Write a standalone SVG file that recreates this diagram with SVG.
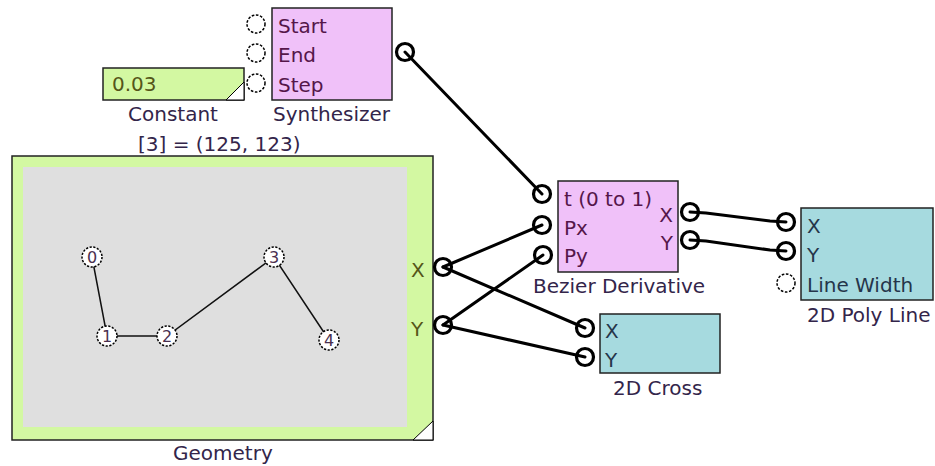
<svg xmlns="http://www.w3.org/2000/svg" width="935" height="466" viewBox="0 0 935 466">
<style>
text{font-family:"DejaVu Sans","Verdana",sans-serif;font-size:20px}
.lbl{fill:#33254a}
.pk{fill:#55164a}
.gr{fill:#555518}
.tl{fill:#25354a}
.box{stroke:#222;stroke-width:1.5}
.pink{fill:#f0c1f9}
.green{fill:#d3f8a2}
.teal{fill:#a6dadf}
.pin{fill:#fff;stroke:#000;stroke-width:1.5;stroke-dasharray:2.6 1.6}
.pc{fill:#fff;stroke:#000;stroke-width:3.2}
.w{fill:none;stroke:#000;stroke-width:3;stroke-linecap:round}
.gp{fill:#fff;stroke:#000;stroke-width:1.5;stroke-dasharray:2.2 1.5}
.gn{font-size:16px;fill:#4a3050;text-anchor:middle}
.gl{fill:none;stroke:#111;stroke-width:1.5}
</style>
<rect width="935" height="466" fill="#fff"/>

<g id="constant">
<rect class="box green" x="103" y="68" width="141" height="32"/>
<polygon points="226,100 244,100 244,82" fill="#fff" stroke="#000" stroke-width="1"/>
<text class="gr" x="112" y="91">0.03</text>
<text class="lbl" x="128" y="121">Constant</text>
</g>

<g id="synthesizer">
<rect class="box pink" x="272" y="8" width="120" height="92"/>
<circle class="pin" cx="256" cy="24" r="9"/>
<circle class="pin" cx="256" cy="53" r="9"/>
<circle class="pin" cx="256" cy="83" r="9"/>
<text class="pk" x="278" y="33">Start</text>
<text class="pk" x="278" y="62">End</text>
<text class="pk" x="278" y="92">Step</text>
<circle class="pc" cx="405" cy="52" r="8.5"/>
<text class="lbl" x="273" y="121">Synthesizer</text>
</g>

<g id="geometry">
<text class="lbl" x="138" y="151">[3] = (125, 123)</text>
<rect class="box green" x="12" y="156" width="421" height="284"/>
<rect x="23" y="167" width="384" height="260" fill="#dfdfdf"/>
<polygon points="413,440 433,440 433,421" fill="#fff" stroke="#000" stroke-width="1"/>
<polyline class="gl" points="92,257 107,336 167,336 274,257 329,340"/>
<circle class="gp" cx="92" cy="257" r="10"/><text class="gn" x="92" y="263">0</text>
<circle class="gp" cx="107" cy="336" r="10"/><text class="gn" x="107" y="342">1</text>
<circle class="gp" cx="167" cy="336" r="10"/><text class="gn" x="167" y="342">2</text>
<circle class="gp" cx="274" cy="257" r="10"/><text class="gn" x="274" y="263">3</text>
<circle class="gp" cx="329" cy="340" r="10"/><text class="gn" x="329" y="346">4</text>
<text class="gr" x="411" y="277">X</text>
<text class="gr" x="411" y="336">Y</text>
<circle class="pc" cx="443" cy="267" r="8.5"/>
<circle class="pc" cx="443" cy="325" r="8.5"/>
<text class="lbl" x="173" y="460">Geometry</text>
</g>

<g id="bezier">
<rect class="box pink" x="558" y="181" width="120" height="91"/>
<circle class="pc" cx="542" cy="194" r="8.5"/>
<circle class="pc" cx="542" cy="225" r="8.5"/>
<circle class="pc" cx="543" cy="255" r="8.5"/>
<text class="pk" x="564" y="206">t (0 to 1)</text>
<text class="pk" x="564" y="235">Px</text>
<text class="pk" x="564" y="263">Py</text>
<text class="pk" x="673" y="222" text-anchor="end">X</text>
<text class="pk" x="673" y="250" text-anchor="end">Y</text>
<circle class="pc" cx="690" cy="212" r="8.5"/>
<circle class="pc" cx="690" cy="240" r="8.5"/>
<text class="lbl" x="533" y="293">Bezier Derivative</text>
</g>

<g id="cross">
<rect class="box teal" x="600" y="314" width="120" height="59"/>
<circle class="pc" cx="585" cy="328" r="8.5"/>
<circle class="pc" cx="585" cy="357" r="8.5"/>
<text class="tl" x="605" y="338">X</text>
<text class="tl" x="605" y="367">Y</text>
<text class="lbl" x="613" y="395">2D Cross</text>
</g>

<g id="polyline">
<rect class="box teal" x="801" y="208" width="132" height="92"/>
<circle class="pc" cx="786" cy="222" r="8.5"/>
<circle class="pc" cx="786" cy="251" r="8.5"/>
<circle class="pin" cx="786" cy="283" r="9"/>
<text class="tl" x="807" y="233">X</text>
<text class="tl" x="807" y="262">Y</text>
<text class="tl" x="807" y="292">Line Width</text>
<text class="lbl" x="807" y="322">2D Poly Line</text>
</g>

<g id="connectors">
<line class="w" x1="405" y1="52" x2="542" y2="194"/>
<line class="w" x1="443" y1="267" x2="542" y2="225"/>
<line class="w" x1="443" y1="267" x2="585" y2="328"/>
<line class="w" x1="443" y1="325" x2="543" y2="255"/>
<line class="w" x1="443" y1="325" x2="585" y2="357"/>
<polyline class="w" points="690,212 706,213 770,221 786,222"/>
<polyline class="w" points="690,240 706,241 770,250 786,251"/>
</g>
</svg>
